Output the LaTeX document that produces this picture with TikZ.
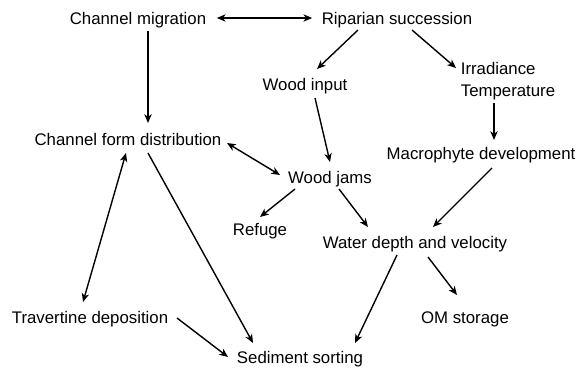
\documentclass[tikz,border=0pt]{standalone}
\usepackage{fontspec}
\setmainfont{Liberation Sans}
\usetikzlibrary{positioning,calc,arrows.meta}
\tikzset{block/.style={inner sep=0pt, text height=10pt, text depth=1pt},
         twoline/.style={inner sep=0pt, align=left},
         >={Stealth[length=6.5pt,width=5.5pt,inset=1.8pt]}}

\begin{document}
\begin{tikzpicture}[->, x=0.75pt, y=-0.75pt, line width=1.05pt, font=\fontsize{12.6pt}{16.5pt}\selectfont]

\useasboundingbox (0,0) rectangle (579,368);

% Nodes
\node [block] (cm) at (138,18) {Channel migration};
\node [block] (rs) at (397,18) {Riparian succession};
\node [block] (wi) at (305,84) {Wood input};
\node [twoline] (ir) at (508,81) {Irradiance\\Temperature};
\node [block] (md) at (481,153) {Macrophyte development};
\node [block] (cf) at (128,139) {Channel form distribution};
\node [block] (wj) at (330,177) {Wood jams};
\node [block] (rf) at (260,229) {Refuge};
\node [block] (wd) at (415,242) {Water depth and velocity};
\node [block] (td) at (90,317) {Travertine deposition};
\node [block] (om) at (465,317) {OM storage};
\node [block] (ss) at (300,357) {Sediment sorting};

%Links
\path[<->] ($(cm.east)+(10,0)$) edge ($(rs.west)+(-9,0)$);
\path ($(rs)+(-39,12)$) edge ($(wi)+(12,-15)$);
\path ($(rs)+(15,12)$) edge ($(ir)+(-52,-13)$);
\path ($(wi)+(10,14)$) edge ($(wj)+(0,-15)$);
\path ($(ir)+(-14,22)$) edge ($(md)+(13,-13)$);
\path ($(cm)+(10,13)$) edge ($(cf)+(20,-16)$);
\path[<->] ($(cf)+(99,4)$) edge ($(wj)+(-50,-2)$);
\path[<->] ($(cf)+(-2,14)$) edge ($(td)+(-7,-15)$);
\path ($(cf)+(20,14)$) edge ($(ss)+(-47,-14)$);
\path ($(wj)+(-35,12)$) edge ($(rf)+(0,-12)$);
\path ($(wj)+(9,12)$) edge ($(wd)+(-47,-15)$);
\path ($(md)+(11,15)$) edge ($(wd)+(18,-15)$);
\path ($(wd)+(-18,13)$) edge ($(ss)+(55,-14)$);
\path ($(wd)+(13,15)$) edge ($(om)+(-8,-22)$);
\path ($(td)+(87,1)$) edge ($(ss)+(-72,0)$);

\end{tikzpicture}
\end{document}
